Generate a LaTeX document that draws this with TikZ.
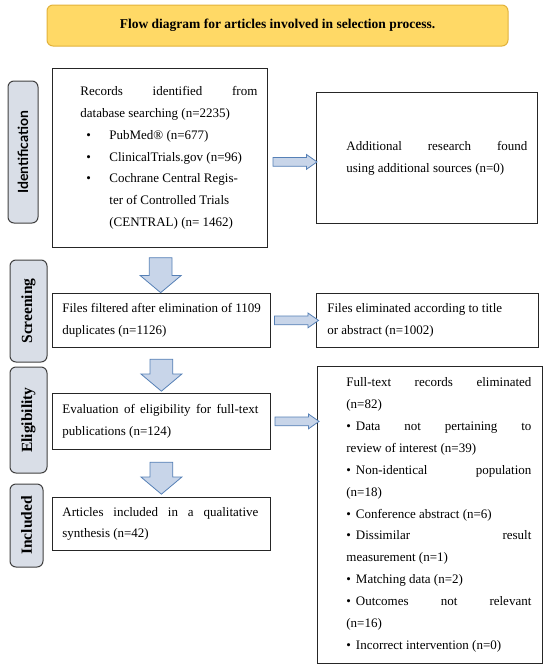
\documentclass[tikz,border=0pt]{standalone}
\usepackage{fontspec}
\setmainfont{Liberation Serif}
\newfontfamily\labelfont{Lato}
\usepackage{xcolor}
\usetikzlibrary{shapes.arrows,calc}
\setlength{\parindent}{0pt}

\definecolor{titlefill}{HTML}{FFD966}
\definecolor{titleline}{HTML}{E2B23A}
\definecolor{stagefill}{HTML}{D9DEE7}
\definecolor{arrowfill}{HTML}{C8D5E9}
\definecolor{arrowline}{HTML}{5680B6}

\tikzstyle{stage} = [rectangle, rounded corners=6pt, draw=black!75, fill=stagefill, line width=1pt, rotate=90, inner sep=0pt, font=\bfseries\fontsize{15.5}{17}\selectfont]
\tikzstyle{record} = [rectangle, draw=black!85, line width=0.8pt, inner sep=0pt, anchor=north west, font=\fontsize{13}{21.9}\selectfont]
\tikzstyle{downarr} = [single arrow, rotate=-90, draw=arrowline, fill=arrowfill, line width=0.8pt, inner xsep=0pt, inner ysep=11pt, minimum height=32pt, single arrow head extend=9pt, single arrow tip angle=100]
\tikzstyle{rightarr} = [single arrow, draw=arrowline, fill=arrowfill, line width=0.8pt, inner xsep=0pt, inner ysep=4pt, minimum height=44pt, single arrow head extend=3pt, single arrow tip angle=70]

% margins of the text inside a box, justified spaces
\newcommand{\margins}[2]{\leftskip=#1pt\relax\rightskip=#2\relax\spaceskip=0pt\relax\xspaceskip=0pt\relax}
\newcommand{\bul}{\noindent\llap{\makebox[23pt][l]{\textbullet}}}
\newcommand{\xitem}{\textbullet\hspace{5pt}}

\begin{document}
\begin{tikzpicture}[x=1pt,y=-1pt]
  \useasboundingbox (0,0) rectangle (550,670);

  % title
  \node[rectangle, rounded corners=6pt, draw=titleline, fill=titlefill, line width=1pt,
        minimum width=461pt, minimum height=41pt, font=\bfseries\fontsize{13.5}{15}\selectfont]
        (title) at (277.5,25.5) {Flow diagram for articles involved in selection process.};

  % stages
  \node[stage, minimum width=142pt, minimum height=30pt, font=\labelfont\bfseries\fontsize{14}{16}\selectfont] (ident) at (23,152) {Identification};
  \node[stage, minimum width=102pt, minimum height=37pt] (screen) at (28.5,311) {Screening};
  \node[stage, minimum width=106pt, minimum height=37pt] (elig) at (28.5,420) {Eligibility};
  \node[stage, minimum width=83pt, minimum height=33pt] (incl) at (26.5,525.5) {Included};

  % boxes
  \node[record, text width=215pt, minimum height=179pt] (records) at (52,68) {%
    \margins{28}{10pt}%
    Records identified from\linebreak database searching (n=2235)\par
    \margins{57}{6pt plus 1fil}%
    \bul PubMed® (n=677)\par
    \bul ClinicalTrials.gov (n=96)\par
    \bul Cochrane Central Regis-\\ter of Controlled Trials\\(CENTRAL) (n=~1462)\par
    \vspace*{10pt}};
  \node[record, text width=221pt, minimum height=131pt] (additional) at (316,92) {%
    \margins{30}{10pt}%
    Additional research found\linebreak using additional sources (n=0)\par};
  \node[record, text width=218pt, minimum height=54pt] (filtered) at (52,293) {%
    \margins{10}{2pt plus 1fil}%
    Files filtered after elimination of 1109\\duplicates (n=1126)\par};
  \node[record, text width=222pt, minimum height=54pt] (removed) at (316,293) {%
    \margins{11}{4pt plus 1fil}%
    Files eliminated according to title\\or abstract (n=1002)\par};
  \node[record, text width=218pt, minimum height=56pt] (eligible) at (52,393) {%
    \margins{10}{12pt}%
    Evaluation of eligibility for full-text\linebreak publications (n=124)\par};
  \node[record, text width=225pt, minimum height=297pt] (excluded) at (317,366) {%
    \margins{29}{11pt}%
    Full-text records eliminated\linebreak (n=82)\par
    \xitem Data not pertaining to\linebreak review of interest (n=39)\par
    \xitem Non-identical population\linebreak (n=18)\par
    \xitem Conference abstract (n=6)\par
    \xitem Dissimilar result\linebreak measurement (n=1)\par
    \xitem Matching data (n=2)\par
    \xitem Outcomes not relevant\linebreak (n=16)\par
    \xitem Incorrect intervention (n=0)\par};
  \node[record, text width=218pt, minimum height=53pt] (included) at (52,497) {%
    \margins{10}{12pt}%
    Articles included in a qualitative\linebreak synthesis (n=42)\par};

  % arrows
  \node[downarr, minimum height=35pt] (d1) at ($(records.south)!0.5!(filtered.north)$) {};
  \node[downarr] (d2) at ($(filtered.south)!0.5!(eligible.north)$) {};
  \node[downarr] (d3) at ($(eligible.south)!0.5!(included.north)$) {};
  \node[rightarr, yshift=-4pt] (r1) at ($(records.east)!0.5!(additional.west)$) {};
  \node[rightarr] (r2) at ($(filtered.east)!0.5!(removed.west)$) {};
  \node[rightarr] (r3) at ($(eligible.east)!0.5!(eligible.east -| excluded.west)$) {};
\end{tikzpicture}
\end{document}
